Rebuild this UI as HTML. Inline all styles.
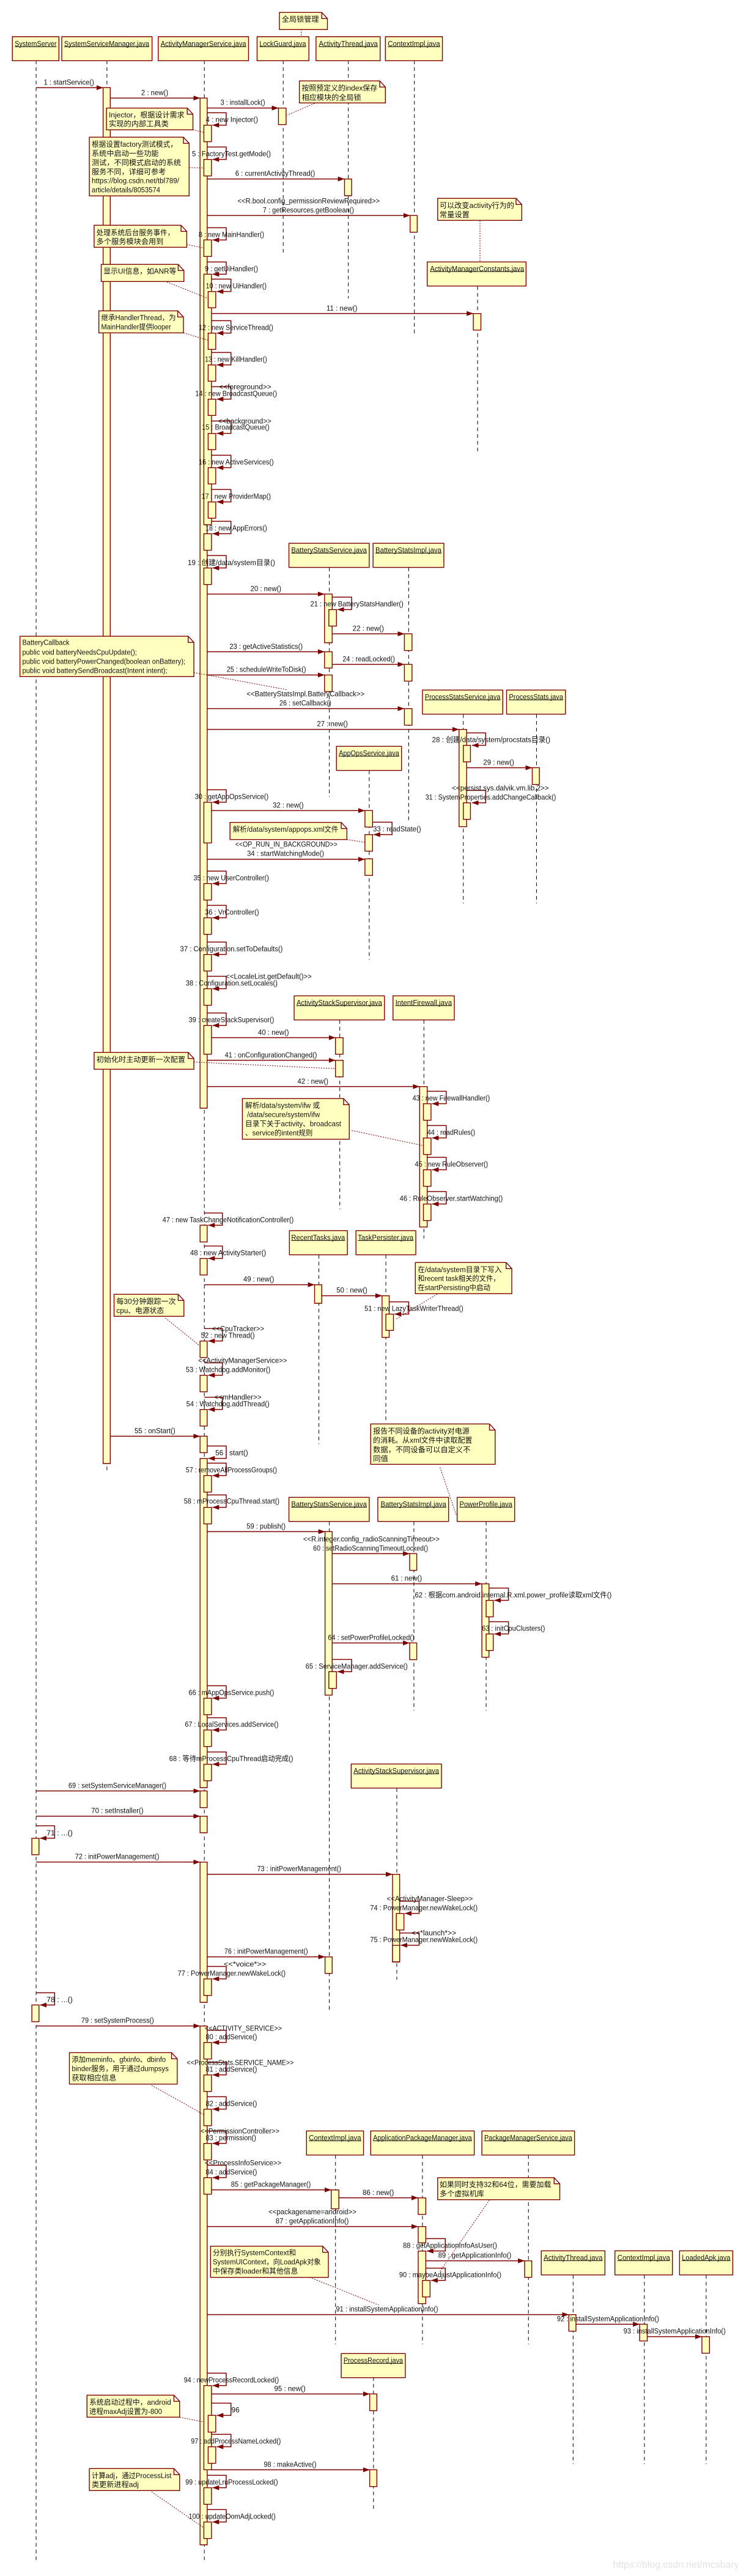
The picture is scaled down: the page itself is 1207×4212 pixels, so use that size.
<!DOCTYPE html>
<html><head><meta charset="utf-8"><title>AMS sequence</title>
<style>
html,body{margin:0;padding:0;background:#fff}
svg{display:block}
text{font-family:"Liberation Sans","Noto Sans CJK SC",sans-serif;font-size:36px;fill:#111}
rect,.n{fill:#ffffc0;stroke:#800000;stroke-width:1.4;vector-effect:non-scaling-stroke}
.l{stroke:#000;stroke-width:1;stroke-dasharray:6 5;fill:none;vector-effect:non-scaling-stroke}
.m{fill:none;stroke:#800000;stroke-width:1.5;marker-end:url(#a);vector-effect:non-scaling-stroke}
.d{fill:none;stroke:#800000;stroke-width:1;stroke-dasharray:2 2;vector-effect:non-scaling-stroke}
.u{fill:none;stroke:#000;stroke-width:1;vector-effect:non-scaling-stroke}
</style></head><body>
<svg xmlns="http://www.w3.org/2000/svg" width="1207" height="4212" viewBox="0 0 1207 4212">
<defs><marker id="a" markerUnits="userSpaceOnUse" markerWidth="15" markerHeight="26" refX="14" refY="12" orient="auto"><path d="M0 0L14 12L0 24Z" fill="#7a0000"/></marker></defs>
<rect x="0" y="0" width="1207" height="4212" style="fill:#fff;stroke:none"/>

<g transform="scale(.7772 1)">
<path class="l" d="M76 99V4189M225 99V2406M430 99V4189M596 99V414M733 99V488M872 99V548M1005 468V741M693 928V1303M860 928V1346M975 1168V1477M1129 1168V1477M777 1260V1569M715 1668V1977M892 1668V2025M671 2052V2361M812 2052V2326M693 2488V3289M871 2488V2797M1023 2488V2797M835 2924V3237M706 3524V3833M889 3524V3833M1112 3524V3833M1206 3720V4029M1356 3720V4029M1486 3720V4029M786 3887V4107"/>
<path class="d" d="M634 48V60M1010 361V428"/>
<rect x="217" y="143.3" width="15" height="2249.7"/>
<rect x="421" y="160.3" width="15" height="1651.7"/>
<rect x="429" y="448.3" width="16" height="409.7"/>
<rect x="683" y="971.3" width="16" height="79.7"/>
<rect x="421" y="2384.7" width="15" height="538.3"/>
<rect x="421" y="3044.7" width="15" height="229.3"/>
<rect x="421" y="3312.7" width="15" height="848.3"/>
<rect x="826" y="3064.7" width="15" height="143.3"/>
</g>

<!-- crop 1 -->
<g transform="scale(.7772 .33333)">
<rect x="26" y="180" width="98" height="118"/><rect x="130" y="180" width="190" height="118"/><rect x="333" y="180" width="190" height="118"/><rect x="541" y="180" width="109" height="118"/><rect x="665" y="180" width="135" height="118"/><rect x="811" y="180" width="120" height="118"/>
<path class="u" d="M31 229H119M135 229H314M338 229H518M546 229H644M671 229H795M816 229H926"/>
<path class="m" d="M76 430H217"/><path class="m" d="M232 481H421"/><path class="m" d="M436 530H586"/>
<rect x="586" y="530" width="16" height="81"/>
<path class="m" d="M436 553H476V614H447"/><rect x="429" y="614" width="16" height="81"/>
<path class="m" d="M436 721H476V782H447"/><rect x="429" y="782" width="16" height="81"/>
<path class="m" d="M436 878H725"/><rect x="725" y="878" width="15" height="82"/>
<path class="n" d="M588 61H677L689 91V145H588ZM677 61V91H689"/>
<path class="n" d="M630 397H799L811 427V505H630ZM799 397V427H811"/>
<path class="n" d="M224 530H394L406 560V637H224ZM394 530V560H406"/>
<path class="n" d="M188 673H386L398 703V961H188ZM386 673V703H398"/>
<path class="n" d="M921 973H1086L1098 1003V1081H921ZM1086 973V1003H1098"/>
<path class="d" d="M662 507L604 565M406 637L430 650M398 822L430 824"/>
<g transform="translate(0,13)">
<text x="593" y="94" textLength="78" lengthAdjust="spacingAndGlyphs">全局锁管理</text>
<text x="31" y="214" textLength="88" lengthAdjust="spacingAndGlyphs">SystemServer</text>
<text x="135" y="214" textLength="179" lengthAdjust="spacingAndGlyphs">SystemServiceManager.java</text>
<text x="338" y="214" textLength="180" lengthAdjust="spacingAndGlyphs">ActivityManagerService.java</text>
<text x="546" y="214" textLength="98" lengthAdjust="spacingAndGlyphs">LockGuard.java</text>
<text x="671" y="214" textLength="124" lengthAdjust="spacingAndGlyphs">ActivityThread.java</text>
<text x="816" y="214" textLength="110" lengthAdjust="spacingAndGlyphs">ContextImpl.java</text>
<text x="92" y="403" textLength="106" lengthAdjust="spacingAndGlyphs">1 : startService()</text>
<text x="297" y="454" textLength="57" lengthAdjust="spacingAndGlyphs">2 : new()</text>
<text x="464" y="502" textLength="94" lengthAdjust="spacingAndGlyphs">3 : installLock()</text>
<text x="433" y="586" textLength="110" lengthAdjust="spacingAndGlyphs">4 : new Injector()</text>
<text x="404" y="754" textLength="166" lengthAdjust="spacingAndGlyphs">5 : FactoryTest.getMode()</text>
<text x="495" y="849" textLength="168" lengthAdjust="spacingAndGlyphs">6 : currentActivityThread()</text>
<text x="500" y="985" textLength="299" lengthAdjust="spacingAndGlyphs">&lt;&lt;R.bool.config_permissionReviewRequired&gt;&gt;</text>
<text x="553" y="1030" textLength="192" lengthAdjust="spacingAndGlyphs">7 : getResources.getBoolean()</text>
<text x="635" y="431" textLength="159" lengthAdjust="spacingAndGlyphs">按照预定义的index保存</text>
<text x="635" y="477" textLength="125" lengthAdjust="spacingAndGlyphs">相应模块的全局锁</text>
<text x="229" y="563" textLength="159" lengthAdjust="spacingAndGlyphs">Injector，根据设计需求</text>
<text x="229" y="607" textLength="126" lengthAdjust="spacingAndGlyphs">实现的内部工具类</text>
<text x="193" y="707" textLength="180" lengthAdjust="spacingAndGlyphs">根据设置factory测试模式，</text>
<text x="193" y="752" textLength="141" lengthAdjust="spacingAndGlyphs">系统中启动一些功能</text>
<text x="193" y="797" textLength="188" lengthAdjust="spacingAndGlyphs">测试，不同模式启动的系统</text>
<text x="193" y="842" textLength="156" lengthAdjust="spacingAndGlyphs">服务不同，详细可参考</text>
<text x="193" y="886" textLength="184" lengthAdjust="spacingAndGlyphs">https://blog.csdn.net/tbl789/</text>
<text x="193" y="931" textLength="144" lengthAdjust="spacingAndGlyphs">article/details/8053574</text>
<text x="925" y="1007" textLength="157" lengthAdjust="spacingAndGlyphs">可以改变activity行为的</text>
<text x="925" y="1052" textLength="63" lengthAdjust="spacingAndGlyphs">常量设置</text>
</g></g>

<!-- crop 2 -->
<g transform="translate(0,351) scale(.7772 .33333)">
<rect x="899" y="232" width="208" height="118"/>
<path class="u" d="M905 279H1103"/>
<path class="m" d="M436 4H863"/><rect x="863" y="4" width="15" height="82"/>
<path class="m" d="M436 64H476V124H447"/><rect x="429" y="124" width="16" height="81"/>
<path class="m" d="M436 232H476V292H447"/>
<path class="m" d="M445 316H486V377H456"/><rect x="438" y="377" width="16" height="80"/>
<path class="m" d="M445 485H996"/><rect x="996" y="485" width="16" height="81"/>
<path class="m" d="M445 520H486V581H456"/><rect x="438" y="581" width="16" height="80"/>
<path class="m" d="M445 676H486V737H456"/><rect x="438" y="737" width="16" height="80"/>
<path class="m" d="M445 844H486V905H456"/><rect x="438" y="905" width="16" height="80"/>
<path class="m" d="M445 1012H486V1073H456"/><rect x="438" y="1073" width="16" height="80"/>
<path class="n" d="M198 52H381L393 82V160H198ZM381 52V82H393"/>
<path class="n" d="M213 244H375L387 274V328H213ZM375 244V274H387"/>
<path class="n" d="M208 472H374L386 502V580H208ZM374 472V502H386"/>
<path class="d" d="M393 146L430 164M351 330L439 412M386 580L438 616"/>
<g transform="translate(0,13)">
<text x="905" y="265" textLength="198" lengthAdjust="spacingAndGlyphs">ActivityManagerConstants.java</text>
<text x="418" y="97" textLength="138" lengthAdjust="spacingAndGlyphs">8 : new MainHandler()</text>
<text x="431" y="265" textLength="112" lengthAdjust="spacingAndGlyphs">9 : getUiHandler()</text>
<text x="433" y="349" textLength="128" lengthAdjust="spacingAndGlyphs">10 : new UiHandler()</text>
<text x="687" y="458" textLength="65" lengthAdjust="spacingAndGlyphs">11 : new()</text>
<text x="418" y="553" textLength="157" lengthAdjust="spacingAndGlyphs">12 : new ServiceThread()</text>
<text x="431" y="709" textLength="131" lengthAdjust="spacingAndGlyphs">13 : new KillHandler()</text>
<text x="461" y="844" textLength="110" lengthAdjust="spacingAndGlyphs">&lt;&lt;foreground&gt;&gt;</text>
<text x="411" y="877" textLength="172" lengthAdjust="spacingAndGlyphs">14 : new BroadcastQueue()</text>
<text x="459" y="1012" textLength="112" lengthAdjust="spacingAndGlyphs">&lt;&lt;background&gt;&gt;</text>
<text x="425" y="1042" textLength="142" lengthAdjust="spacingAndGlyphs">15 : BroadcastQueue()</text>
<text x="203" y="87" textLength="164" lengthAdjust="spacingAndGlyphs">处理系统后台服务事件，</text>
<text x="203" y="131" textLength="141" lengthAdjust="spacingAndGlyphs">多个服务模块会用到</text>
<text x="218" y="277" textLength="153" lengthAdjust="spacingAndGlyphs">显示UI信息，如ANR等</text>
<text x="213" y="505" textLength="157" lengthAdjust="spacingAndGlyphs">继承HandlerThread，为</text>
<text x="213" y="549" textLength="147" lengthAdjust="spacingAndGlyphs">MainHandler提供looper</text>
</g></g>

<!-- crop 3 -->
<g transform="translate(0,702) scale(.7772 .33333)">
<rect x="608" y="559" width="169" height="118"/><rect x="785" y="559" width="149" height="118"/>
<path class="u" d="M613 607H772M790 607H929"/>
<path class="m" d="M445 127H486V188H456"/><rect x="438" y="188" width="16" height="80"/>
<path class="m" d="M445 295H486V356H456"/><rect x="438" y="356" width="16" height="80"/>
<path class="m" d="M445 451H486V512H447"/><rect x="429" y="512" width="16" height="81"/>
<path class="m" d="M436 619H476V680H447"/><rect x="429" y="680" width="16" height="81"/>
<path class="m" d="M436 808H683"/>
<path class="m" d="M699 823H740V884H710"/><rect x="692" y="884" width="16" height="81"/>
<path class="m" d="M699 1003H851"/><rect x="851" y="1003" width="16" height="82"/>
<path class="n" d="M42 1015H396L408 1045V1213H42ZM396 1015V1045H408"/>
<g transform="translate(0,13)">
<text x="613" y="592" textLength="159" lengthAdjust="spacingAndGlyphs">BatteryStatsService.java</text>
<text x="790" y="592" textLength="139" lengthAdjust="spacingAndGlyphs">BatteryStatsImpl.java</text>
<text x="418" y="160" textLength="158" lengthAdjust="spacingAndGlyphs">16 : new ActiveServices()</text>
<text x="424" y="328" textLength="146" lengthAdjust="spacingAndGlyphs">17 : new ProviderMap()</text>
<text x="432" y="484" textLength="130" lengthAdjust="spacingAndGlyphs">18 : new AppErrors()</text>
<text x="395" y="653" textLength="184" lengthAdjust="spacingAndGlyphs">19 : 创建/data/system目录()</text>
<text x="527" y="781" textLength="65" lengthAdjust="spacingAndGlyphs">20 : new()</text>
<text x="653" y="856" textLength="196" lengthAdjust="spacingAndGlyphs">21 : new BatteryStatsHandler()</text>
<text x="742" y="976" textLength="66" lengthAdjust="spacingAndGlyphs">22 : new()</text>
<text x="47" y="1045" textLength="99" lengthAdjust="spacingAndGlyphs">BatteryCallback</text>
<text x="47" y="1093" textLength="241" lengthAdjust="spacingAndGlyphs">public void batteryNeedsCpuUpdate();</text>
<text x="47" y="1138" textLength="343" lengthAdjust="spacingAndGlyphs">public void batteryPowerChanged(boolean onBattery);</text>
<text x="47" y="1182" textLength="305" lengthAdjust="spacingAndGlyphs">public void batterySendBroadcast(Intent intent);</text>
</g></g>

<!-- crop 4 -->
<g transform="translate(0,1053) scale(.7772 .33333)">
<rect x="889" y="226" width="169" height="118"/><rect x="1066" y="226" width="124" height="118"/><rect x="708" y="502" width="137" height="118"/>
<path class="u" d="M894 274H1053M1071 274H1185M713 550H840"/>
<path class="m" d="M436 38H683"/><rect x="683" y="38" width="16" height="80"/>
<path class="m" d="M699 100H851"/><rect x="851" y="100" width="16" height="82"/>
<path class="m" d="M436 152H683"/><rect x="683" y="152" width="16" height="81"/>
<path class="m" d="M436 317H851"/><rect x="851" y="317" width="16" height="81"/>
<path class="m" d="M436 419H966"/><rect x="966" y="419" width="16" height="477"/>
<path class="m" d="M982 436H1022V497H993"/><rect x="975" y="497" width="15" height="81"/>
<path class="m" d="M982 607H1120"/><rect x="1120" y="607" width="15" height="82"/>
<path class="m" d="M982 718H1022V779H993"/><rect x="975" y="779" width="15" height="81"/>
<path class="m" d="M436 715H476V776H447"/><rect x="429" y="776" width="16" height="200"/>
<path class="m" d="M445 817H768"/><rect x="768" y="817" width="16" height="81"/>
<path class="m" d="M784 874H825V935H786"/><rect x="768" y="935" width="16" height="81"/>
<path class="m" d="M436 1056H768"/>
<path class="n" d="M484 875H718L730 905V959H484ZM718 875V905H730"/>
<path class="d" d="M408 140L603 224M730 959L768 973"/>
<g transform="translate(0,13)">
<text x="483" y="11" textLength="154" lengthAdjust="spacingAndGlyphs">23 : getActiveStatistics()</text>
<text x="721" y="72" textLength="110" lengthAdjust="spacingAndGlyphs">24 : readLocked()</text>
<text x="477" y="124" textLength="167" lengthAdjust="spacingAndGlyphs">25 : scheduleWriteToDisk()</text>
<text x="519" y="244" textLength="248" lengthAdjust="spacingAndGlyphs">&lt;&lt;BatteryStatsImpl.BatteryCallback&gt;&gt;</text>
<text x="588" y="289" textLength="109" lengthAdjust="spacingAndGlyphs">26 : setCallback()</text>
<text x="667" y="391" textLength="65" lengthAdjust="spacingAndGlyphs">27 : new()</text>
<text x="894" y="259" textLength="159" lengthAdjust="spacingAndGlyphs">ProcessStatsService.java</text>
<text x="1071" y="259" textLength="114" lengthAdjust="spacingAndGlyphs">ProcessStats.java</text>
<text x="713" y="535" textLength="127" lengthAdjust="spacingAndGlyphs">AppOpsService.java</text>
<text x="909" y="469" textLength="249" lengthAdjust="spacingAndGlyphs">28 : 创建/data/system/procstats目录()</text>
<text x="1017" y="580" textLength="65" lengthAdjust="spacingAndGlyphs">29 : new()</text>
<text x="951" y="706" textLength="204" lengthAdjust="spacingAndGlyphs">&lt;&lt;persist.sys.dalvik.vm.lib.2&gt;&gt;</text>
<text x="895" y="750" textLength="275" lengthAdjust="spacingAndGlyphs">31 : SystemProperties.addChangeCallback()</text>
<text x="410" y="748" textLength="155" lengthAdjust="spacingAndGlyphs">30 : getAppOpsService()</text>
<text x="574" y="790" textLength="65" lengthAdjust="spacingAndGlyphs">32 : new()</text>
<text x="785" y="907" textLength="101" lengthAdjust="spacingAndGlyphs">33 : readState()</text>
<text x="490" y="908" textLength="222" lengthAdjust="spacingAndGlyphs">解析/data/system/appops.xml文件</text>
<text x="495" y="982" textLength="215" lengthAdjust="spacingAndGlyphs">&lt;&lt;OP_RUN_IN_BACKGROUND&gt;&gt;</text>
<text x="520" y="1027" textLength="162" lengthAdjust="spacingAndGlyphs">34 : startWatchingMode()</text>
</g></g>

<!-- crop 5 -->
<g transform="translate(0,1404) scale(.7772 .33333)">
<rect x="768" y="1" width="16" height="81"/>
<rect x="619" y="673" width="190" height="118"/><rect x="827" y="673" width="129" height="118"/>
<path class="u" d="M624 721H804M832 721H951"/>
<path class="m" d="M436 61H476V122H447"/><rect x="429" y="122" width="16" height="81"/>
<path class="m" d="M436 229H476V290H447"/><rect x="429" y="290" width="16" height="81"/>
<path class="m" d="M436 409H476V470H447"/><rect x="429" y="470" width="16" height="81"/>
<path class="m" d="M436 577H476V638H447"/><rect x="429" y="638" width="16" height="81"/>
<path class="m" d="M436 757H476V818H447"/><rect x="429" y="818" width="16" height="141"/>
<path class="m" d="M445 878H706"/><rect x="706" y="878" width="16" height="81"/>
<path class="m" d="M436 989H706"/><rect x="706" y="989" width="16" height="81"/>
<path class="n" d="M198 950H396L408 980V1033H198ZM396 950V980H408"/>
<path class="d" d="M408 997Q560 1015 706 1030"/>
<g transform="translate(0,13)">
<text x="407" y="94" textLength="159" lengthAdjust="spacingAndGlyphs">35 : new UserController()</text>
<text x="431" y="262" textLength="114" lengthAdjust="spacingAndGlyphs">36 : VrController()</text>
<text x="379" y="441" textLength="216" lengthAdjust="spacingAndGlyphs">37 : Configuration.setToDefaults()</text>
<text x="475" y="577" textLength="181" lengthAdjust="spacingAndGlyphs">&lt;&lt;LocaleList.getDefault()&gt;&gt;</text>
<text x="391" y="610" textLength="193" lengthAdjust="spacingAndGlyphs">38 : Configuration.setLocales()</text>
<text x="397" y="790" textLength="180" lengthAdjust="spacingAndGlyphs">39 : createStackSupervisor()</text>
<text x="624" y="706" textLength="180" lengthAdjust="spacingAndGlyphs">ActivityStackSupervisor.java</text>
<text x="832" y="706" textLength="119" lengthAdjust="spacingAndGlyphs">IntentFirewall.java</text>
<text x="543" y="851" textLength="65" lengthAdjust="spacingAndGlyphs">40 : new()</text>
<text x="473" y="962" textLength="194" lengthAdjust="spacingAndGlyphs">41 : onConfigurationChanged()</text>
<text x="203" y="985" textLength="187" lengthAdjust="spacingAndGlyphs">初始化时主动更新一次配置</text>
</g></g>

<!-- crop 6 -->
<g transform="translate(0,1755) scale(.7772 .33333)">
<rect x="609" y="772" width="122" height="118"/><rect x="749" y="772" width="126" height="118"/>
<path class="u" d="M613 820H726M753 820H870"/>
<path class="m" d="M436 65H883"/><rect x="883" y="65" width="16" height="689"/>
<path class="m" d="M899 88H939V149H909"/><rect x="891" y="149" width="16" height="81"/>
<path class="m" d="M899 256H939V317H909"/><rect x="891" y="317" width="16" height="81"/>
<path class="m" d="M899 412H939V473H909"/><rect x="891" y="473" width="16" height="81"/>
<path class="m" d="M899 580H939V641H909"/><rect x="891" y="641" width="16" height="81"/>
<path class="m" d="M430 685H468V745H438"/><rect x="421" y="745" width="15" height="82"/>
<path class="m" d="M430 847H468V908H438"/><rect x="421" y="908" width="15" height="81"/>
<path class="m" d="M430 1037H662"/><rect x="662" y="1037" width="15" height="91"/>
<path class="n" d="M510 124H723L735 154V323H510ZM723 124V154H735"/>
<path class="n" d="M874 928H1065L1077 958V1081H874ZM1065 928V958H1077"/>
<path class="d" d="M740 280L891 355"/>
<g transform="translate(0,13)">
<text x="626" y="38" textLength="65" lengthAdjust="spacingAndGlyphs">42 : new()</text>
<text x="868" y="121" textLength="163" lengthAdjust="spacingAndGlyphs">43 : new FirewallHandler()</text>
<text x="899" y="289" textLength="101" lengthAdjust="spacingAndGlyphs">44 : readRules()</text>
<text x="873" y="445" textLength="154" lengthAdjust="spacingAndGlyphs">45 : new RuleObserver()</text>
<text x="841" y="613" textLength="217" lengthAdjust="spacingAndGlyphs">46 : RuleObserver.startWatching()</text>
<text x="342" y="717" textLength="276" lengthAdjust="spacingAndGlyphs">47 : new TaskChangeNotificationController()</text>
<text x="400" y="880" textLength="160" lengthAdjust="spacingAndGlyphs">48 : new ActivityStarter()</text>
<text x="613" y="805" textLength="113" lengthAdjust="spacingAndGlyphs">RecentTasks.java</text>
<text x="753" y="805" textLength="117" lengthAdjust="spacingAndGlyphs">TaskPersister.java</text>
<text x="512" y="1009" textLength="65" lengthAdjust="spacingAndGlyphs">49 : new()</text>
<text x="516" y="157" textLength="157" lengthAdjust="spacingAndGlyphs">解析/data/system/ifw 或</text>
<text x="520" y="202" textLength="153" lengthAdjust="spacingAndGlyphs">/data/secure/system/ifw</text>
<text x="516" y="247" textLength="202" lengthAdjust="spacingAndGlyphs">目录下关于activity、broadcast</text>
<text x="516" y="292" textLength="142" lengthAdjust="spacingAndGlyphs">、service的intent规则</text>
<text x="879" y="962" textLength="177" lengthAdjust="spacingAndGlyphs">在/data/system目录下写入</text>
<text x="879" y="1006" textLength="173" lengthAdjust="spacingAndGlyphs">和recent task相关的文件，</text>
<text x="879" y="1051" textLength="153" lengthAdjust="spacingAndGlyphs">在startPersisting中启动</text>
</g></g>

<!-- crop 7 -->
<g transform="translate(0,2106) scale(.7772 .33333)">
<rect x="608" y="1027" width="169" height="118"/><rect x="795" y="1027" width="149" height="118"/><rect x="962" y="1027" width="121" height="118"/>
<path class="u" d="M613 1075H772M801 1075H939M967 1075H1078"/>
<path class="m" d="M677 38H804"/><rect x="804" y="38" width="15" height="204"/>
<path class="m" d="M819 68H860V128H830"/><rect x="812" y="128" width="16" height="80"/>
<path class="m" d="M430 199H468V260H438"/><rect x="421" y="260" width="15" height="81"/>
<path class="m" d="M430 367H468V428H438"/><rect x="421" y="428" width="15" height="81"/>
<path class="m" d="M430 536H468V596H438"/><rect x="421" y="596" width="15" height="81"/>
<path class="m" d="M232 727H421"/><rect x="421" y="727" width="15" height="81"/>
<path class="m" d="M436 775H476V836H438"/>
<path class="m" d="M436 859H476V920H447"/><rect x="429" y="920" width="16" height="81"/>
<path class="m" d="M436 1015H476V1076H447"/><rect x="429" y="1076" width="16" height="81"/>
<path class="n" d="M240 31H375L387 61V139H240ZM375 31V61H387"/>
<path class="n" d="M780 667H1030L1042 697V865H780ZM1030 667V697H1042"/>
<path class="d" d="M920 30L832 155M348 147L421 285M926 880L960 1113"/>
<g transform="translate(0,13)">
<text x="708" y="10" textLength="65" lengthAdjust="spacingAndGlyphs">50 : new()</text>
<text x="767" y="100" textLength="208" lengthAdjust="spacingAndGlyphs">51 : new LazyTaskWriterThread()</text>
<text x="245" y="65" textLength="125" lengthAdjust="spacingAndGlyphs">每30分钟跟踪一次</text>
<text x="245" y="110" textLength="100" lengthAdjust="spacingAndGlyphs">cpu、电源状态</text>
<text x="446" y="199" textLength="110" lengthAdjust="spacingAndGlyphs">&lt;&lt;CpuTracker&gt;&gt;</text>
<text x="423" y="232" textLength="113" lengthAdjust="spacingAndGlyphs">52 : new Thread()</text>
<text x="417" y="355" textLength="187" lengthAdjust="spacingAndGlyphs">&lt;&lt;ActivityManagerService&gt;&gt;</text>
<text x="391" y="400" textLength="178" lengthAdjust="spacingAndGlyphs">53 : Watchdog.addMonitor()</text>
<text x="451" y="535" textLength="99" lengthAdjust="spacingAndGlyphs">&lt;&lt;mHandler&gt;&gt;</text>
<text x="392" y="568" textLength="175" lengthAdjust="spacingAndGlyphs">54 : Watchdog.addThread()</text>
<text x="283" y="700" textLength="86" lengthAdjust="spacingAndGlyphs">55 : onStart()</text>
<text x="453" y="808" textLength="69" lengthAdjust="spacingAndGlyphs">56 : start()</text>
<text x="391" y="892" textLength="192" lengthAdjust="spacingAndGlyphs">57 : removeAllProcessGroups()</text>
<text x="387" y="1045" textLength="201" lengthAdjust="spacingAndGlyphs">58 : mProcessCpuThread.start()</text>
<text x="785" y="701" textLength="203" lengthAdjust="spacingAndGlyphs">报告不同设备的activity对电源</text>
<text x="785" y="746" textLength="209" lengthAdjust="spacingAndGlyphs">的消耗。从xml文件中读取配置</text>
<text x="785" y="792" textLength="205" lengthAdjust="spacingAndGlyphs">数据，不同设备可以自定义不</text>
<text x="785" y="836" textLength="32" lengthAdjust="spacingAndGlyphs">同值</text>
<text x="613" y="1060" textLength="159" lengthAdjust="spacingAndGlyphs">BatteryStatsService.java</text>
<text x="801" y="1060" textLength="138" lengthAdjust="spacingAndGlyphs">BatteryStatsImpl.java</text>
<text x="967" y="1060" textLength="111" lengthAdjust="spacingAndGlyphs">PowerProfile.java</text>
</g></g>

<!-- crop 8 -->
<g transform="translate(0,2457) scale(.7772 .33333)">
<path class="m" d="M436 142H684"/><rect x="684" y="142" width="15" height="802"/>
<path class="m" d="M699 250H862"/><rect x="862" y="250" width="15" height="82"/>
<path class="m" d="M699 398H1014"/><rect x="1014" y="398" width="15" height="360"/>
<path class="m" d="M1029 419H1070V479H1040"/><rect x="1023" y="479" width="15" height="81"/>
<path class="m" d="M1029 584H1070V644H1040"/><rect x="1023" y="644" width="15" height="81"/>
<path class="m" d="M699 688H862"/><rect x="862" y="688" width="15" height="82"/>
<path class="m" d="M699 769H740V829H710"/><rect x="692" y="829" width="16" height="82"/>
<path class="m" d="M436 898H476V959H447"/><rect x="429" y="959" width="16" height="81"/>
<g transform="translate(0,13)">
<text x="519" y="115" textLength="82" lengthAdjust="spacingAndGlyphs">59 : publish()</text>
<text x="638" y="178" textLength="287" lengthAdjust="spacingAndGlyphs">&lt;&lt;R.integer.config_radioScanningTimeout&gt;&gt;</text>
<text x="659" y="223" textLength="242" lengthAdjust="spacingAndGlyphs">60 : setRadioScanningTimeoutLocked()</text>
<text x="823" y="370" textLength="65" lengthAdjust="spacingAndGlyphs">61 : new()</text>
<text x="873" y="452" textLength="414" lengthAdjust="spacingAndGlyphs">62 : 根据com.android.internal.R.xml.power_profile读取xml文件()</text>
<text x="1014" y="616" textLength="133" lengthAdjust="spacingAndGlyphs">63 : initCpuClusters()</text>
<text x="690" y="661" textLength="182" lengthAdjust="spacingAndGlyphs">64 : setPowerProfileLocked()</text>
<text x="643" y="802" textLength="215" lengthAdjust="spacingAndGlyphs">65 : ServiceManager.addService()</text>
<text x="397" y="931" textLength="180" lengthAdjust="spacingAndGlyphs">66 : mAppOpsService.push()</text>
</g></g>

<!-- crop 9 -->
<g transform="translate(0,2808) scale(.7772 .33333)">
<rect x="739" y="229" width="190" height="118"/>
<path class="u" d="M744 277H924"/>
<path class="m" d="M436 2H476V62H447"/><rect x="429" y="62" width="16" height="81"/>
<path class="m" d="M436 170H476V230H447"/><rect x="429" y="230" width="16" height="81"/>
<path class="m" d="M76 361H421"/><rect x="421" y="361" width="15" height="82"/>
<path class="m" d="M76 485H421"/><rect x="421" y="485" width="15" height="81"/>
<path class="m" d="M76 532H115V593H84"/><rect x="67" y="593" width="15" height="81"/>
<path class="m" d="M76 710H421"/>
<path class="m" d="M436 770H826"/>
<path class="m" d="M841 902H882V962H852"/><rect x="834" y="962" width="16" height="81"/>
<g transform="translate(0,13)">
<text x="389" y="34" textLength="197" lengthAdjust="spacingAndGlyphs">67 : LocalServices.addService()</text>
<text x="356" y="202" textLength="261" lengthAdjust="spacingAndGlyphs">68 : 等待mProcessCpuThread启动完成()</text>
<text x="744" y="262" textLength="180" lengthAdjust="spacingAndGlyphs">ActivityStackSupervisor.java</text>
<text x="144" y="334" textLength="206" lengthAdjust="spacingAndGlyphs">69 : setSystemServiceManager()</text>
<text x="192" y="457" textLength="110" lengthAdjust="spacingAndGlyphs">70 : setInstaller()</text>
<text x="98" y="566" textLength="55" lengthAdjust="spacingAndGlyphs">71 : ...()</text>
<text x="158" y="682" textLength="177" lengthAdjust="spacingAndGlyphs">72 : initPowerManagement()</text>
<text x="541" y="742" textLength="177" lengthAdjust="spacingAndGlyphs">73 : initPowerManagement()</text>
<text x="814" y="889" textLength="181" lengthAdjust="spacingAndGlyphs">&lt;&lt;ActivityManager-Sleep&gt;&gt;</text>
<text x="779" y="934" textLength="226" lengthAdjust="spacingAndGlyphs">74 : PowerManager.newWakeLock()</text>
</g></g>

<!-- crop 10 -->
<g transform="translate(0,3159) scale(.7772 .33333)">
<rect x="645" y="976" width="120" height="118"/><rect x="780" y="976" width="218" height="118"/><rect x="1014" y="976" width="195" height="118"/>
<path class="u" d="M650 1024H760M785 1024H993M1019 1024H1204"/>
<path class="m" d="M841 5H882V65H843"/><rect x="826" y="65" width="15" height="81"/>
<path class="m" d="M436 122H684"/><rect x="684" y="122" width="15" height="81"/>
<path class="m" d="M436 169H476V230H447"/><rect x="429" y="230" width="16" height="81"/>
<path class="m" d="M76 298H115V358H84"/><rect x="67" y="358" width="15" height="82"/>
<path class="m" d="M76 461H421"/>
<path class="m" d="M436 482H476V542H447"/><rect x="429" y="542" width="16" height="81"/>
<path class="m" d="M436 640H476V701H447"/><rect x="429" y="701" width="16" height="81"/>
<path class="m" d="M436 808H476V869H447"/><rect x="429" y="869" width="16" height="81"/>
<path class="m" d="M436 976H476V1037H447"/><rect x="429" y="1037" width="16" height="81"/>
<path class="n" d="M146 592H361L373 622V746H146ZM361 592V622H373"/>
<path class="d" d="M319 752L430 897"/>
<g transform="translate(0,13)">
<text x="866" y="3" textLength="94" lengthAdjust="spacingAndGlyphs">&lt;&lt;*launch*&gt;&gt;</text>
<text x="779" y="37" textLength="226" lengthAdjust="spacingAndGlyphs">75 : PowerManager.newWakeLock()</text>
<text x="472" y="94" textLength="176" lengthAdjust="spacingAndGlyphs">76 : initPowerManagement()</text>
<text x="471" y="157" textLength="89" lengthAdjust="spacingAndGlyphs">&lt;&lt;*voice*&gt;&gt;</text>
<text x="374" y="202" textLength="227" lengthAdjust="spacingAndGlyphs">77 : PowerManager.newWakeLock()</text>
<text x="98" y="331" textLength="55" lengthAdjust="spacingAndGlyphs">78 : ...()</text>
<text x="171" y="433" textLength="153" lengthAdjust="spacingAndGlyphs">79 : setSystemProcess()</text>
<text x="431" y="472" textLength="162" lengthAdjust="spacingAndGlyphs">&lt;&lt;ACTIVITY_SERVICE&gt;&gt;</text>
<text x="433" y="514" textLength="108" lengthAdjust="spacingAndGlyphs">80 : addService()</text>
<text x="393" y="640" textLength="225" lengthAdjust="spacingAndGlyphs">&lt;&lt;ProcessStats.SERVICE_NAME&gt;&gt;</text>
<text x="433" y="673" textLength="108" lengthAdjust="spacingAndGlyphs">81 : addService()</text>
<text x="433" y="841" textLength="108" lengthAdjust="spacingAndGlyphs">82 : addService()</text>
<text x="422" y="976" textLength="166" lengthAdjust="spacingAndGlyphs">&lt;&lt;PermissionController&gt;&gt;</text>
<text x="433" y="1009" textLength="106" lengthAdjust="spacingAndGlyphs">83 : permission()</text>
<text x="151" y="625" textLength="198" lengthAdjust="spacingAndGlyphs">添加meminfo、gfxinfo、dbinfo</text>
<text x="151" y="670" textLength="204" lengthAdjust="spacingAndGlyphs">binder服务，用于通过dumpsys</text>
<text x="151" y="715" textLength="94" lengthAdjust="spacingAndGlyphs">获取相应信息</text>
<text x="650" y="1009" textLength="110" lengthAdjust="spacingAndGlyphs">ContextImpl.java</text>
<text x="785" y="1009" textLength="208" lengthAdjust="spacingAndGlyphs">ApplicationPackageManager.java</text>
<text x="1019" y="1009" textLength="185" lengthAdjust="spacingAndGlyphs">PackageManagerService.java</text>
</g></g>

<!-- crop 11 -->
<g transform="translate(0,3510) scale(.7772 .33333)">
<rect x="1139" y="511" width="134" height="118"/><rect x="1294" y="511" width="121" height="118"/><rect x="1430" y="511" width="112" height="118"/>
<rect x="718" y="1015" width="135" height="118"/>
<path class="u" d="M1144 559H1268M1299 559H1410M1435 559H1537M723 1063H848"/>
<path class="m" d="M436 91H476V152H447"/><rect x="429" y="152" width="16" height="81"/>
<path class="m" d="M445 212H697"/><rect x="697" y="212" width="16" height="93"/>
<path class="m" d="M713 251H880"/><rect x="880" y="251" width="16" height="81"/>
<path class="m" d="M436 392H880"/><rect x="880" y="392" width="16" height="80"/>
<path class="m" d="M896 451H937V512H898"/><rect x="880" y="512" width="16" height="258"/>
<path class="m" d="M896 560H1104"/><rect x="1104" y="560" width="15" height="81"/>
<path class="m" d="M896 596H937V656H907"/><rect x="889" y="656" width="16" height="81"/>
<path class="m" d="M436 824H1197"/><rect x="1197" y="824" width="15" height="81"/>
<path class="m" d="M1212 871H1346"/><rect x="1346" y="871" width="16" height="82"/>
<path class="m" d="M1362 932H1477"/><rect x="1477" y="932" width="16" height="81"/>
<path class="n" d="M921 152H1166L1178 182V260H921ZM1166 152V182H1178"/>
<path class="n" d="M443 488H679L691 518V641H443ZM679 488V518H691"/>
<path class="d" d="M1030 262L925 615M652 641L797 777"/>
<g transform="translate(0,13)">
<text x="431" y="79" textLength="161" lengthAdjust="spacingAndGlyphs">&lt;&lt;ProcessInfoService&gt;&gt;</text>
<text x="433" y="124" textLength="108" lengthAdjust="spacingAndGlyphs">84 : addService()</text>
<text x="486" y="184" textLength="168" lengthAdjust="spacingAndGlyphs">85 : getPackageManager()</text>
<text x="763" y="224" textLength="66" lengthAdjust="spacingAndGlyphs">86 : new()</text>
<text x="565" y="319" textLength="185" lengthAdjust="spacingAndGlyphs">&lt;&lt;packagename=android&gt;&gt;</text>
<text x="580" y="364" textLength="154" lengthAdjust="spacingAndGlyphs">87 : getApplicationInfo()</text>
<text x="848" y="484" textLength="198" lengthAdjust="spacingAndGlyphs">88 : getApplicationInfoAsUser()</text>
<text x="922" y="532" textLength="154" lengthAdjust="spacingAndGlyphs">89 : getApplicationInfo()</text>
<text x="840" y="628" textLength="215" lengthAdjust="spacingAndGlyphs">90 : maybeAdjustApplicationInfo()</text>
<text x="707" y="796" textLength="215" lengthAdjust="spacingAndGlyphs">91 : installSystemApplicationInfo()</text>
<text x="1172" y="844" textLength="215" lengthAdjust="spacingAndGlyphs">92 : installSystemApplicationInfo()</text>
<text x="1312" y="904" textLength="215" lengthAdjust="spacingAndGlyphs">93 : installSystemApplicationInfo()</text>
<text x="1144" y="544" textLength="124" lengthAdjust="spacingAndGlyphs">ActivityThread.java</text>
<text x="1299" y="544" textLength="111" lengthAdjust="spacingAndGlyphs">ContextImpl.java</text>
<text x="1435" y="544" textLength="102" lengthAdjust="spacingAndGlyphs">LoadedApk.java</text>
<text x="723" y="1048" textLength="125" lengthAdjust="spacingAndGlyphs">ProcessRecord.java</text>
<text x="925" y="185" textLength="235" lengthAdjust="spacingAndGlyphs">如果同时支持32和64位，需要加载</text>
<text x="925" y="230" textLength="94" lengthAdjust="spacingAndGlyphs">多个虚拟机库</text>
<text x="448" y="520" textLength="175" lengthAdjust="spacingAndGlyphs">分别执行SystemContext和</text>
<text x="448" y="565" textLength="227" lengthAdjust="spacingAndGlyphs">SystemUIContext，向LoadApk对象</text>
<text x="448" y="610" textLength="179" lengthAdjust="spacingAndGlyphs">中保存类loader和其他信息</text>
</g></g>

<!-- crop 12 -->
<g transform="translate(0,3861) scale(.7772 .33333)">
<path class="m" d="M436 58H476V119H447"/><rect x="429" y="119" width="16" height="413"/>
<path class="m" d="M445 160H778"/><rect x="778" y="160" width="15" height="82"/>
<path class="m" d="M445 205H486V265H456"/><rect x="438" y="265" width="16" height="82"/>
<path class="m" d="M445 358H486V419H456"/><rect x="438" y="419" width="16" height="81"/>
<path class="m" d="M445 532H778"/><rect x="778" y="532" width="15" height="82"/>
<path class="m" d="M436 559H476V620H447"/><rect x="429" y="620" width="16" height="81"/>
<path class="m" d="M436 727H476V788H447"/><rect x="429" y="788" width="16" height="81"/>
<path class="n" d="M183 166H366L378 196V274H183ZM366 166V196H378"/>
<path class="n" d="M188 526H366L378 556V634H188ZM366 526V556H378"/>
<path class="d" d="M378 274L430 298M319 640L428 815"/>
<g transform="translate(0,13)">
<text x="387" y="91" textLength="200" lengthAdjust="spacingAndGlyphs">94 : newProcessRecordLocked()</text>
<text x="577" y="133" textLength="66" lengthAdjust="spacingAndGlyphs">95 : new()</text>
<text x="487" y="237" textLength="17" lengthAdjust="spacingAndGlyphs">96</text>
<text x="402" y="391" textLength="189" lengthAdjust="spacingAndGlyphs">97 : addProcessNameLocked()</text>
<text x="555" y="505" textLength="111" lengthAdjust="spacingAndGlyphs">98 : makeActive()</text>
<text x="390" y="592" textLength="195" lengthAdjust="spacingAndGlyphs">99 : updateLruProcessLocked()</text>
<text x="397" y="760" textLength="183" lengthAdjust="spacingAndGlyphs">100 : updateOomAdjLocked()</text>
<text x="188" y="200" textLength="172" lengthAdjust="spacingAndGlyphs">系统启动过程中，android</text>
<text x="188" y="245" textLength="153" lengthAdjust="spacingAndGlyphs">进程maxAdj设置为-800</text>
<text x="193" y="560" textLength="168" lengthAdjust="spacingAndGlyphs">计算adj，通过ProcessList</text>
<text x="193" y="604" textLength="99" lengthAdjust="spacingAndGlyphs">类更新进程adj</text>
<text x="1290" y="1000" textLength="265" lengthAdjust="spacingAndGlyphs" style="fill:#e2e2e2;font-size:48px">https://blog.csdn.net/mcsbary</text>
</g></g>
</svg>
</body></html>
